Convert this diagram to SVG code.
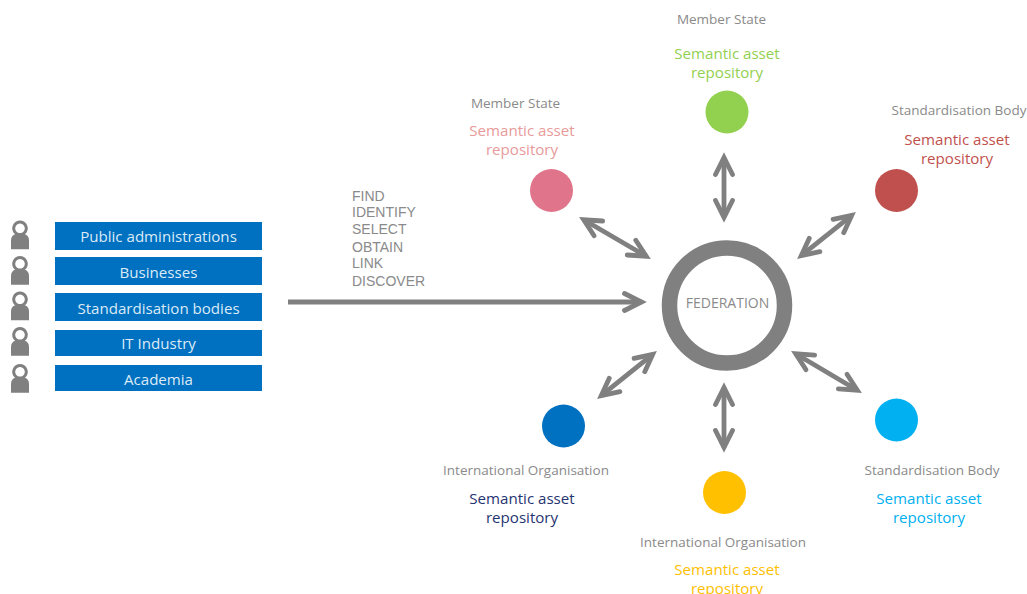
<svg xmlns="http://www.w3.org/2000/svg" width="1027" height="594" viewBox="0 0 1027 594">
<style>
text{font-family:"Open Sans","Noto Sans","Liberation Sans",sans-serif;text-anchor:middle}
.bar{fill:#0070C0}
.bt{fill:#DCEBF7;font-size:15.100px}
.lab{fill:#8A8A8A;font-size:13.500px}
.sem{font-size:15.100px}
.verb{font-family:"Liberation Sans",Arial,sans-serif;fill:#8A8A8A;font-size:14px;text-anchor:start}
.conn line{stroke:#808080;stroke-width:4.800;fill:none}
.p{fill:#808080}
</style>
<defs>
<marker id="chev" markerUnits="userSpaceOnUse" markerWidth="44" markerHeight="44" refX="22" refY="22" orient="auto-start-reverse" viewBox="0 0 44 44" overflow="visible">
<path d="M5,13.500 L22,22 L5,30.500" fill="none" stroke="#808080" stroke-width="4.800" stroke-linecap="round" stroke-miterlimit="8"/>
</marker>
<g id="person"><path class="p" fill-rule="evenodd" d="M20,0a7.800,7.800 0 1 1 -0.01,0zM20,3a4.800,4.800 0 1 0 0.01,0z"/><path class="p" d="M11,28.800V20q0-5.500 5-6.500q4,2.500 8,0q5,1 5,6.500V28.800z"/></g>
</defs>
<g id="people">
<g id="person1"><use href="#person" y="220.500"/><rect class="bar" x="55" y="222" width="207" height="28"/><text class="bt" x="158.500" y="242">Public administrations</text></g>
<g id="person2"><use href="#person" y="256"/><rect class="bar" x="55" y="257" width="207" height="28"/><text class="bt" x="158.500" y="278">Businesses</text></g>
<g id="person3"><use href="#person" y="291.500"/><rect class="bar" x="55" y="293" width="207" height="28"/><text class="bt" x="158.500" y="314">Standardisation bodies</text></g>
<g id="person4"><use href="#person" y="327"/><rect class="bar" x="55" y="330" width="207" height="26"/><text class="bt" x="158.500" y="349">IT Industry</text></g>
<g id="person5"><use href="#person" y="364"/><rect class="bar" x="55" y="365" width="207" height="26"/><text class="bt" x="158.500" y="385">Academia</text></g>
</g>
<g id="verbs">
<text class="verb" x="352" y="201">FIND</text>
<text class="verb" x="352" y="217">IDENTIFY</text>
<text class="verb" x="352" y="234">SELECT</text>
<text class="verb" x="352" y="252">OBTAIN</text>
<text class="verb" x="352" y="268">LINK</text>
<text class="verb" x="352" y="286">DISCOVER</text>
</g>
<g id="connectors" class="conn">
<line x1="288" y1="302" x2="641.500" y2="302" marker-end="url(#chev)"/>
<line x1="724" y1="157.500" x2="724" y2="217.500" marker-start="url(#chev)" marker-end="url(#chev)"/>
<line x1="724" y1="387.500" x2="724" y2="447.500" marker-start="url(#chev)" marker-end="url(#chev)"/>
<line x1="583.700" y1="219.800" x2="646.200" y2="256.200" marker-start="url(#chev)" marker-end="url(#chev)"/>
<line x1="851.700" y1="215.400" x2="801.300" y2="255.600" marker-start="url(#chev)" marker-end="url(#chev)"/>
<line x1="652.700" y1="354.400" x2="601.300" y2="395.600" marker-start="url(#chev)" marker-end="url(#chev)"/>
<line x1="795.700" y1="353.800" x2="857.300" y2="390.200" marker-start="url(#chev)" marker-end="url(#chev)"/>
</g>
<g id="federation"><circle cx="727" cy="305.500" r="57.500" fill="#fff" stroke="#808080" stroke-width="15.500"/><text x="727.500" y="308" fill="#8A8A8A" font-size="14">FEDERATION</text></g>
<g id="ms-green"><circle cx="727" cy="112" r="21.500" fill="#92D050"/><text class="lab" x="721.500" y="24">Member State</text><text class="sem" x="727" y="59" fill="#92D050">Semantic asset</text><text class="sem" x="727" y="78" fill="#92D050">repository</text></g>
<g id="ms-pink"><circle cx="551.500" cy="190.500" r="21.500" fill="#E0748A"/><text class="lab" x="515.500" y="108">Member State</text><text class="sem" x="522" y="136" fill="#E89A9A">Semantic asset</text><text class="sem" x="522" y="155" fill="#E89A9A">repository</text></g>
<g id="sb-red"><circle cx="896.500" cy="190.500" r="21.500" fill="#C0504D"/><text class="lab" x="959" y="115">Standardisation Body</text><text class="sem" x="957" y="145" fill="#C0504D">Semantic asset</text><text class="sem" x="957" y="164" fill="#C0504D">repository</text></g>
<g id="io-blue"><circle cx="563.500" cy="426" r="21.500" fill="#0070C0"/><text class="lab" x="526" y="475">International Organisation</text><text class="sem" x="522" y="504" fill="#1F3470">Semantic asset</text><text class="sem" x="522" y="523" fill="#1F3470">repository</text></g>
<g id="sb-sky"><circle cx="896.500" cy="420" r="21.500" fill="#00B0F0"/><text class="lab" x="932" y="475">Standardisation Body</text><text class="sem" x="929" y="504" fill="#00B0F0">Semantic asset</text><text class="sem" x="929" y="523" fill="#00B0F0">repository</text></g>
<g id="io-yellow"><circle cx="724.500" cy="492.500" r="21.500" fill="#FFC000"/><text class="lab" x="723" y="547">International Organisation</text><text class="sem" x="727" y="575" fill="#FFC000">Semantic asset</text><text class="sem" x="727" y="594" fill="#FFC000">repository</text></g>
</svg>
